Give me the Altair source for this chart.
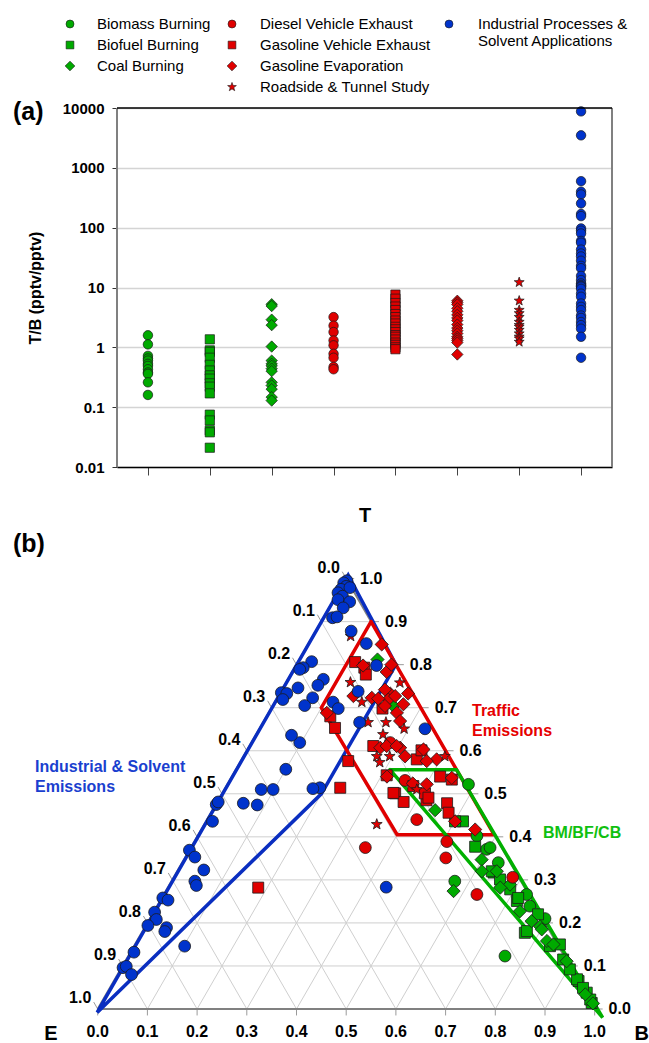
import math
import altair as alt
import pandas as pd

GREEN = "#00AA00"
RED = "#E00000"
BLUE = "#0033CC"
FONT = "Liberation Sans"
STAR = ("M0,-1L0.24,-0.33L0.951,-0.309L0.39,0.127L0.588,0.809L0,0.41L-0.588,0.809"
        "L-0.39,0.127L-0.951,-0.309L-0.24,-0.33Z")

# ---------------- categories ----------------
sources = ["Biomass Burning", "Biofuel Burning", "Coal Burning",
           "Diesel Vehicle Exhaust", "Gasoline Vehicle Exhaust",
           "Gasoline Evaporation", "Roadside & Tunnel Study",
           "Industrial Processes & Solvent Applications"]
shapes = ["circle", "square", "diamond", "circle", "square", "diamond", STAR, "circle"]
colors = [GREEN, GREEN, GREEN, RED, RED, RED, RED, BLUE]

# ---------------- panel (a): T/B ratios (pptv/pptv) ----------------
tb_biomass = [1.59, 1.12, 0.72, 0.65, 0.6, 0.53, 0.49, 0.43, 0.38, 0.36, 0.26, 0.16]
tb_biofuel = [1.36, 0.89, 0.84, 0.67, 0.51, 0.41, 0.34, 0.30, 0.25, 0.22, 0.17,
              0.075, 0.06, 0.041, 0.038, 0.021]
tb_coal = [5.25, 4.9, 2.9, 2.35, 1.03, 0.6, 0.53, 0.49, 0.44, 0.40, 0.26, 0.23, 0.2, 0.147, 0.129]
tb_diesel = [3.2, 2.3, 1.8, 1.3, 1.08, 0.78, 0.67, 0.47, 0.43]
tb_gas_exh = [7.6, 6.5, 5.5, 4.8, 4.2, 3.6, 3.2, 2.8, 2.5, 2.2, 2.0, 1.8, 1.6, 1.5,
              1.35, 1.2, 1.1, 1.0, 0.93]
tb_gas_evap = [6.0, 5.6, 5.2, 4.5, 4.0, 3.5, 3.1, 2.8, 2.4, 2.1, 1.9, 1.7, 1.5, 1.4,
               1.3, 1.2, 0.76]
tb_roadside = [12.2, 6.0, 4.2, 3.7, 3.2, 2.65, 2.35, 2.2, 1.95, 1.7, 1.5, 1.4, 1.23]
tb_industrial = [8780, 3490, 598, 398, 359, 254, 169, 156, 97, 89, 80, 60, 56, 43, 37,
                 33, 28, 23, 21, 15.6, 13.3, 11.7, 11, 10.6, 10.3, 9.5, 7.9, 7.0, 5.4,
                 4.75, 4.2, 3.4, 3.1, 2.65, 2.35, 2.05, 1.5, 0.67]
y_ticks_a = [0.01, 0.1, 1, 10, 100, 1000, 10000]

# ---------------- panel (b): ternary fractions (B, T); E = 1 - B - T ----------------
biomass_b = [0.485, 0.597, 0.636, 0.730, 0.795, 0.758, 0.562, 0.602, 0.570, 0.750]
biomass_t = [0.522, 0.371, 0.340, 0.266, 0.210, 0.123, 0.402, 0.375, 0.297, 0.239]

biofuel_b = [0.517, 0.571, 0.638, 0.718, 0.771, 0.837, 0.879, 0.935, 0.965, 0.987, 0.691,
             0.717, 0.501, 0.633, 0.773, 0.930, 0.952, 0.980, 0.776, 0.855, 0.904, 0.659]
biofuel_t = [0.436, 0.377, 0.317, 0.251, 0.177, 0.146, 0.115, 0.065, 0.038, 0.014, 0.278,
             0.258, 0.436, 0.320, 0.181, 0.069, 0.049, 0.022, 0.220, 0.150, 0.092, 0.301]

coal_b = [0.157, 0.243, 0.448, 0.599, 0.643, 0.685, 0.771, 0.794, 0.825, 0.888, 0.613,
          0.669, 0.736, 0.579, 0.801, 0.842, 0.964, 0.990]
coal_t = [0.812, 0.704, 0.462, 0.347, 0.320, 0.289, 0.204, 0.192, 0.158, 0.111, 0.320,
          0.282, 0.227, 0.274, 0.185, 0.150, 0.034, 0.013]

diesel_b = [0.422, 0.351, 0.508, 0.525, 0.630, 0.682, 0.279, 0.353]
diesel_t = [0.440, 0.375, 0.389, 0.351, 0.266, 0.306, 0.619, 0.531]

gas_exh_b = [0.115, 0.140, 0.151, 0.224, 0.151, 0.128, 0.249, 0.352, 0.351, 0.419, 0.216,
             0.231, 0.348, 0.375, 0.419, 0.464, 0.478, 0.408, 0.376, 0.446, 0.182, 0.310,
             0.344, 0.420]
gas_exh_t = [0.806, 0.793, 0.777, 0.698, 0.653, 0.680, 0.611, 0.580, 0.601, 0.540, 0.576,
             0.514, 0.501, 0.481, 0.485, 0.478, 0.456, 0.501, 0.518, 0.533, 0.282, 0.543,
             0.502, 0.491]

gas_evap_b = [0.148, 0.135, 0.190, 0.191, 0.258, 0.222, 0.225, 0.261, 0.258, 0.151, 0.190,
              0.274, 0.207, 0.235, 0.204, 0.265, 0.305, 0.325, 0.354, 0.392, 0.444, 0.312,
              0.226, 0.276, 0.296, 0.374, 0.401, 0.501, 0.551, 0.117, 0.372]
gas_evap_t = [0.847, 0.798, 0.783, 0.800, 0.733, 0.733, 0.719, 0.708, 0.688, 0.727, 0.723,
              0.669, 0.742, 0.727, 0.721, 0.607, 0.607, 0.587, 0.603, 0.580, 0.537, 0.540,
              0.704, 0.611, 0.611, 0.576, 0.522, 0.436, 0.417, 0.688, 0.524]

roadside_b = [0.076, 0.129, 0.175, 0.211, 0.247, 0.229, 0.291, 0.268, 0.294, 0.405, 0.281,
              0.387, 0.347, 0.255]
roadside_t = [0.866, 0.759, 0.713, 0.666, 0.666, 0.758, 0.651, 0.587, 0.587, 0.587, 0.573,
              0.510, 0.429, 0.638]

industrial_b = [0.004, 0.000, 0.009, 0.002, 0.000, 0.018, 0.013, 0.008, 0.034, 0.028, 0.018,
                0.026, 0.071, 0.116, 0.162, 0.027, 0.017, 0.071, 0.067, 0.071, 0.064, 0.117,
                0.135, 0.155, 0.194, 0.333, 0.097, 0.190, 0.012, 0.030, 0.002, 0.014, 0.013,
                0.072, 0.100, 0.074, 0.098, 0.177, 0.001, 0.002, 0.054, 0.084, 0.013, 0.000,
                0.019, 0.052, 0.047, 0.055, 0.002, 0.015, 0.002, 0.014, 0.004, 0.044, 0.045,
                0.102, 0.007, 0.003, 0.008, 0.028, 0.439]
industrial_t = [0.995, 0.990, 0.982, 0.975, 0.967, 0.979, 0.959, 0.951, 0.946, 0.932, 0.909,
                0.911, 0.878, 0.849, 0.798, 0.807, 0.793, 0.766, 0.752, 0.723, 0.705, 0.713,
                0.698, 0.738, 0.666, 0.651, 0.619, 0.514, 0.789, 0.746, 0.735, 0.733, 0.719,
                0.636, 0.557, 0.510, 0.510, 0.512, 0.475, 0.481, 0.478, 0.474, 0.436, 0.369,
                0.353, 0.323, 0.297, 0.287, 0.258, 0.253, 0.225, 0.208, 0.194, 0.189, 0.180,
                0.146, 0.132, 0.096, 0.099, 0.080, 0.283]

# source-region polygons (B, T vertices)
poly_industrial = [(0.2, 0.8), (0.2, 0.5), (0.003, -0.008), (0.0, 1.008), (0.2, 0.8)]
poly_traffic = [(0.1, 0.9), (0.1, 0.7), (0.4, 0.405), (0.595, 0.405), (0.1, 0.9)]
poly_bm = [(0.31, 0.556), (0.444, 0.556), (1.026, -0.02), (0.31, 0.556)]

tern_ticks = [0.0, 0.1, 0.2, 0.3, 0.4, 0.5, 0.6, 0.7, 0.8, 0.9, 1.0]

# ---------------- helpers ----------------
S3 = math.sqrt(3) / 2


def cx(b, t):
    return b + t / 2


def cy(t):
    return t * S3


one = pd.DataFrame({"k": [0]})

# ================= PANEL (a) =================
W_A, H_A = 495, 359
x_a = alt.X("source:N",
            scale=alt.Scale(domain=sources, type="point", padding=0.5),
            axis=alt.Axis(labels=False, title=None, ticks=True, tickSize=8,
                          tickColor="#444444", tickWidth=1, domainColor="black",
                          domainWidth=1.5, grid=False))
y_a = alt.Y("ratio:Q",
            scale=alt.Scale(type="log", domain=[0.01, 10000], nice=False),
            axis=alt.Axis(values=y_ticks_a, format="~g", labelFont=FONT,
                          labelFontSize=15, labelFontWeight="bold", labelColor="black",
                          labelPadding=8, tickSize=5, tickColor="#333333", tickWidth=1,
                          domain=False, grid=True, gridColor="#d4d4d4", gridWidth=1.5,
                          title="T/B (pptv/pptv)", titleFont=FONT, titleFontSize=16,
                          titleFontWeight="bold", titleColor="black", titlePadding=19))

series_a = [tb_biomass, tb_biofuel, tb_coal, tb_diesel, tb_gas_exh, tb_gas_evap,
            tb_roadside, tb_industrial]
sizes_a = {"circle": 90, "square": 85, "diamond": 130, STAR: 110}

layers_a = []
for src, shp, col, vals in zip(sources, shapes, colors, series_a):
    d = pd.DataFrame({"source": [src] * len(vals), "ratio": vals})
    layers_a.append(
        alt.Chart(d).mark_point(filled=True, opacity=1, shape=shp, size=sizes_a[shp],
                                color=col, stroke="#1a1a1a", strokeWidth=0.7)
        .encode(x=x_a, y=y_a)
    )

top_df = pd.DataFrame({"ratio": [10000]})
top_rule = alt.Chart(top_df).mark_rule(color="black", strokeWidth=1.5).encode(y=y_a)
left_rule = alt.Chart(one).mark_rule(color="#808080", strokeWidth=2).encode(x=alt.value(0))
right_rule = alt.Chart(one).mark_rule(color="#808080", strokeWidth=2).encode(x=alt.value(W_A))
lab_a = alt.Chart(one).mark_text(text="(a)", align="left", baseline="middle", fontSize=25,
                                 fontWeight="bold", font=FONT, color="black").encode(
    x=alt.value(-104), y=alt.value(4))

# legend (custom, three columns)
legend_items = [
    ("Biomass Burning", "circle", GREEN, 0, 0),
    ("Biofuel Burning", "square", GREEN, 0, 1),
    ("Coal Burning", "diamond", GREEN, 0, 2),
    ("Diesel Vehicle Exhaust", "circle", RED, 1, 0),
    ("Gasoline Vehicle Exhaust", "square", RED, 1, 1),
    ("Gasoline Evaporation", "diamond", RED, 1, 2),
    ("Roadside & Tunnel Study", STAR, RED, 1, 3),
    ("Industrial Processes &", "circle", BLUE, 2, 0),
]
leg_marker_x = [-47, 115, 332]
leg_text_x = [-20, 143, 361]
leg_row_y = [-84, -63, -42, -21]
leg_sizes = {"circle": 64, "square": 60, "diamond": 95, STAR: 85}
legend_layers = []
for label, shp, col, c, r in legend_items:
    legend_layers.append(
        alt.Chart(one).mark_point(filled=True, opacity=1, shape=shp, size=leg_sizes[shp],
                                  color=col, stroke="#1a1a1a", strokeWidth=0.6)
        .encode(x=alt.value(leg_marker_x[c]), y=alt.value(leg_row_y[r]))
    )
    legend_layers.append(
        alt.Chart(one).mark_text(text=label, align="left", baseline="middle", fontSize=15,
                                 font=FONT, color="black")
        .encode(x=alt.value(leg_text_x[c]), y=alt.value(leg_row_y[r]))
    )
legend_layers.append(
    alt.Chart(one).mark_text(text="Solvent Applications", align="left", baseline="middle",
                             fontSize=15, font=FONT, color="black")
    .encode(x=alt.value(leg_text_x[2]), y=alt.value(leg_row_y[0] + 17))
)

panel_a = alt.layer(left_rule, right_rule, *layers_a, top_rule, lab_a,
                    *legend_layers).properties(width=W_A, height=H_A)

# ================= PANEL (b) =================
PX = 497.0                      # pixels per ternary unit
W_B, H_B = 495, 440
X0 = 19.3 / PX                  # ternary X seen at the panel's left edge
xs_b = alt.Scale(domain=[X0, X0 + W_B / PX], nice=False, zero=False)
ys_b = alt.Scale(domain=[0, H_B / PX], nice=False, zero=False)


def xenc(f):
    return alt.X(f, type="quantitative", scale=xs_b, axis=None)


def yenc(f):
    return alt.Y(f, type="quantitative", scale=ys_b, axis=None)


# grid lines
grid_rows = []
for v in tern_ticks[1:-1]:
    grid_rows.append((cx(0, v), cy(v), cx(1 - v, v), cy(v)))          # constant T
    grid_rows.append((cx(v, 0), cy(0), cx(v, 1 - v), cy(1 - v)))      # constant B
    grid_rows.append((cx(1 - v, 0), cy(0), cx(0, 1 - v), cy(1 - v)))  # constant E
grid_df = pd.DataFrame(grid_rows, columns=["x1", "y1", "x2", "y2"])
grid = alt.Chart(grid_df).mark_rule(color="#cfcfcf", strokeWidth=1).encode(
    x=xenc("x1"), y=yenc("y1"), x2="x2:Q", y2="y2:Q")

# tick marks
tick_rows = []
for v in tern_ticks:
    tick_rows.append((cx(v, 0), 0.0, cx(v, 0), -0.013))
    xr, yr = cx(1 - v, v), cy(v)
    tick_rows.append((xr, yr, xr + 0.016, yr))
    xl, yl = cx(0, 1 - v), cy(1 - v)
    tick_rows.append((xl, yl, xl - 0.008, yl + 0.0139))
tick_df = pd.DataFrame(tick_rows, columns=["x1", "y1", "x2", "y2"])
ticks = alt.Chart(tick_df).mark_rule(color="#9a9a9a", strokeWidth=1).encode(
    x=xenc("x1"), y=yenc("y1"), x2="x2:Q", y2="y2:Q")

# triangle edges
edge_df = pd.DataFrame([(cx(0, 0), cy(0), cx(1, 0), cy(0)),
                        (cx(0, 0), cy(0), cx(0, 1), cy(1)),
                        (cx(1, 0), cy(0), cx(0, 1), cy(1))],
                       columns=["x1", "y1", "x2", "y2"])
edges = alt.Chart(edge_df).mark_rule(color="#808080", strokeWidth=2).encode(
    x=xenc("x1"), y=yenc("y1"), x2="x2:Q", y2="y2:Q")

# polygons
poly_layers = []
for verts, col in [(poly_industrial, "#0A2EC0"), (poly_traffic, "#E00000"), (poly_bm, "#00B000")]:
    d = pd.DataFrame({"i": list(range(len(verts))),
                      "b": [p[0] for p in verts], "t": [p[1] for p in verts]})
    poly_layers.append(
        alt.Chart(d).transform_calculate(X="datum.b + datum.t / 2", Y="datum.t * 0.8660254")
        .mark_line(color=col, strokeWidth=3.5, strokeJoin="miter", strokeCap="round")
        .encode(x=xenc("X"), y=yenc("Y"), order="i:Q")
    )

# points
series_b = [(biomass_b, biomass_t), (biofuel_b, biofuel_t), (coal_b, coal_t),
            (diesel_b, diesel_t), (gas_exh_b, gas_exh_t), (gas_evap_b, gas_evap_t),
            (roadside_b, roadside_t), (industrial_b, industrial_t)]
sizes_b = {"circle": 140, "square": 121, "diamond": 175, STAR: 130}
pts_b = []
for src, shp, col, (bs, ts) in zip(sources, shapes, colors, series_b):
    d = pd.DataFrame({"source": [src] * len(bs), "b": bs, "t": ts})
    pts_b.append(
        alt.Chart(d).transform_calculate(X="datum.b + datum.t / 2", Y="datum.t * 0.8660254")
        .mark_point(filled=True, opacity=1, shape=shp, size=sizes_b[shp], color=col,
                    stroke="#1a1a1a", strokeWidth=0.8)
        .encode(x=xenc("X"), y=yenc("Y"))
    )

# axis labels
labels = [f"{v:.1f}" for v in tern_ticks]
bot_df = pd.DataFrame({"X": [cx(v, 0) for v in tern_ticks], "Y": [0.0] * 11, "lab": labels})
right_df = pd.DataFrame({"X": [cx(1 - v, v) for v in tern_ticks],
                         "Y": [cy(v) for v in tern_ticks], "lab": labels})
left_df = pd.DataFrame({"X": [cx(0, 1 - v) for v in tern_ticks],
                        "Y": [cy(1 - v) for v in tern_ticks], "lab": labels})
txt_kw = dict(fontSize=16, fontWeight="bold", font=FONT, color="black", baseline="middle",
              align="center")
bot_lab = alt.Chart(bot_df).mark_text(dy=22.5, **txt_kw).encode(
    x=xenc("X"), y=yenc("Y"), text="lab:N")
right_lab = alt.Chart(right_df).mark_text(dx=25, **txt_kw).encode(
    x=xenc("X"), y=yenc("Y"), text="lab:N")
left_lab = alt.Chart(left_df).mark_text(dx=-17.5, dy=-11, **txt_kw).encode(
    x=xenc("X"), y=yenc("Y"), text="lab:N")

# vertex labels & annotations
vert_kw = dict(fontSize=20, fontWeight="bold", font=FONT, color="black", baseline="middle",
               align="center")
lab_T = alt.Chart(one).mark_text(text="T", **vert_kw).encode(x=alt.value(248), y=alt.value(-53))
lab_E = alt.Chart(one).mark_text(text="E", **vert_kw).encode(x=alt.value(-66), y=alt.value(464.5))
lab_B = alt.Chart(one).mark_text(text="B", **vert_kw).encode(x=alt.value(524.7), y=alt.value(464.5))
lab_b = alt.Chart(one).mark_text(text="(b)", align="left", baseline="middle", fontSize=25,
                                 fontWeight="bold", font=FONT, color="black").encode(
    x=alt.value(-104), y=alt.value(-25))
ann_kw = dict(fontSize=16, fontWeight="bold", font=FONT, align="left", baseline="middle")
ann_layers = []
for txt, col, px, py in [("Industrial & Solvent", "#1A3FCF", -82, 198),
                         ("Emissions", "#1A3FCF", -82, 218),
                         ("Traffic", "#E60000", 355, 142),
                         ("Emissions", "#E60000", 355, 162),
                         ("BM/BF/CB", "#10C010", 426, 264)]:
    ann_layers.append(
        alt.Chart(one).mark_text(text=txt, color=col, **ann_kw)
        .encode(x=alt.value(px), y=alt.value(py))
    )

panel_b = alt.layer(grid, ticks, edges, *poly_layers, *pts_b, bot_lab, right_lab, left_lab,
                    lab_T, lab_E, lab_B, lab_b, *ann_layers
                    ).properties(width=W_B, height=H_B)

chart = (
    alt.vconcat(panel_a, panel_b, spacing=30)
    .resolve_scale(x="independent", y="independent")
    .properties(padding={"left": 13, "top": 17, "right": 0, "bottom": 0})
    .configure(font=FONT)
    .configure_view(stroke=None)
)

chart.save("out.html", embed_options={"renderer": "svg", "actions": False})
